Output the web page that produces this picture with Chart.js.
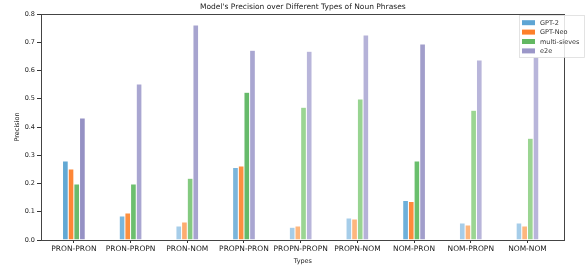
<!DOCTYPE html>
<html><head><meta charset="utf-8">
<script src="https://cdn.jsdelivr.net/npm/chart.js@4"></script>
<style>html,body{margin:0;padding:0;background:#fff}#w{width:586px;height:265px}</style>
</head><body><div id="w"><canvas id="c" width="586" height="265"></canvas></div>
<script>
const categories = ["PRON-PRON","PRON-PROPN","PRON-NOM","PROPN-PRON","PROPN-PROPN","PROPN-NOM","NOM-PRON","NOM-PROPN","NOM-NOM"];
const seriesNames = ["GPT-2","GPT-Neo","multi-sieves","e2e"];
const gpt2 = [0.280,0.085,0.050,0.257,0.045,0.078,0.140,0.060,0.060];
const gptNeo = [0.251,0.096,0.064,0.262,0.050,0.074,0.136,0.053,0.050];
const multiSieves = [0.198,0.198,0.219,0.523,0.470,0.499,0.280,0.459,0.360];
const e2e = [0.432,0.552,0.761,0.672,0.668,0.726,0.694,0.637,0.647];
const yTicks = [0.0,0.1,0.2,0.3,0.4,0.5,0.6,0.7,0.8];

const legendColors = ["#5ea5d4","#fd7f2a","#63b862","#9b97c8"];
const barColors = [
  ["#62a8d4","#7ab7de","#a6cde9","#7ab5db","#a6cde9","#a6cde9","#6eb0da","#a6cde9","#a6cde9"],
  ["#fd8636","#fd9040","#fdac70","#fd9040","#fdb67d","#fdb67d","#fd8a3a","#fdb67d","#fdb67d"],
  ["#6abb6d","#6cbf6e","#84ca80","#66ba6a","#9bd592","#98d491","#6abf6c","#9bd592","#9bd592"],
  ["#9591c4","#a9a6d1","#a7a4cf","#a9a6d1","#b8b5da","#b5b2d8","#a19ecb","#b8b5da","#b8b5da"]
];
const allData = [gpt2, gptNeo, multiSieves, e2e];
const FONT = "'DejaVu Sans', sans-serif";

const frame = {
  id:'frame',
  afterDatasetsDraw(chart){
    const {ctx, chartArea:a} = chart;
    ctx.save();
    ctx.strokeStyle = '#444'; ctx.lineWidth = 1;
    ctx.strokeRect(Math.round(a.left)+0.5, Math.round(a.top)+0.5, Math.round(a.right-a.left)-1, Math.round(a.bottom-a.top));
    ctx.fillStyle = '#222';
    ctx.font = "7.5px " + FONT;
    ctx.textAlign = 'center'; ctx.textBaseline = 'middle';
    ctx.fillText("Model's Precision over Different Types of Noun Phrases", (a.left+a.right)/2, 7);
    const bx = 519, by = 15, bw = 65, bh = 42;
    ctx.fillStyle = 'rgba(255,255,255,0.85)';
    ctx.fillRect(bx, by, bw, bh);
    ctx.strokeStyle = '#ddd'; ctx.lineWidth = 0.8;
    ctx.strokeRect(bx+0.5, by+0.5, bw, bh);
    ctx.font = "6.5px " + FONT; ctx.textAlign = 'left';
    chart.data.datasets.forEach((ds, i) => {
      const y = 22.7 + i*9.4;
      ctx.fillStyle = legendColors[i];
      ctx.fillRect(522, y-2.5, 13, 5);
      ctx.fillStyle = '#333';
      ctx.fillText(ds.label, 540, y+0.5);
    });
    ctx.restore();
  }
};

new Chart(document.getElementById('c'), {
  type:'bar',
  data:{
    labels: categories,
    datasets: seriesNames.map((n,i)=>({
      label:n, data: allData[i], backgroundColor: barColors[i],
      borderColor:'#ffffff', borderWidth:0.5,
      categoryPercentage:0.4, barPercentage:1.0
    }))
  },
  options:{
    responsive:false, animation:false, devicePixelRatio:1,
    layout:{padding:{top:14,right:1,left:0,bottom:0}},
    plugins:{legend:{display:false}, title:{display:false}, tooltip:{enabled:false}},
    scales:{
      x:{
        offset:false,
        grid:{display:true, drawOnChartArea:false, drawTicks:true, tickLength:3, color:'#333', offset:false},
        border:{display:false},
        ticks:{font:{family:FONT,size:7.5}, color:'#222', padding:2, maxRotation:0, autoSkip:false},
        title:{display:true, text:'Types', font:{family:FONT,size:6.5}, color:'#222', padding:{top:0,bottom:0}},
        afterFit(s){ s.height = 25; },
        afterUpdate(s){ s._startValue = -0.58; s._valueRange = 9.236; }
      },
      y:{
        min:0, max:0.8,
        afterBuildTicks(s){ s.ticks = yTicks.map(v=>({value:v})); },
        grid:{display:true, drawOnChartArea:false, drawTicks:true, tickLength:4, color:'#333'},
        border:{display:false},
        ticks:{font:{family:FONT,size:6.5}, color:'#222', padding:2, callback:v=>v.toFixed(1)},
        title:{display:true, text:'Precision', font:{family:FONT,size:6.5}, color:'#222', padding:{top:13,bottom:4}},
        afterFit(s){ s.width = 41; }
      }
    }
  },
  plugins:[frame]
});
</script></body></html>
